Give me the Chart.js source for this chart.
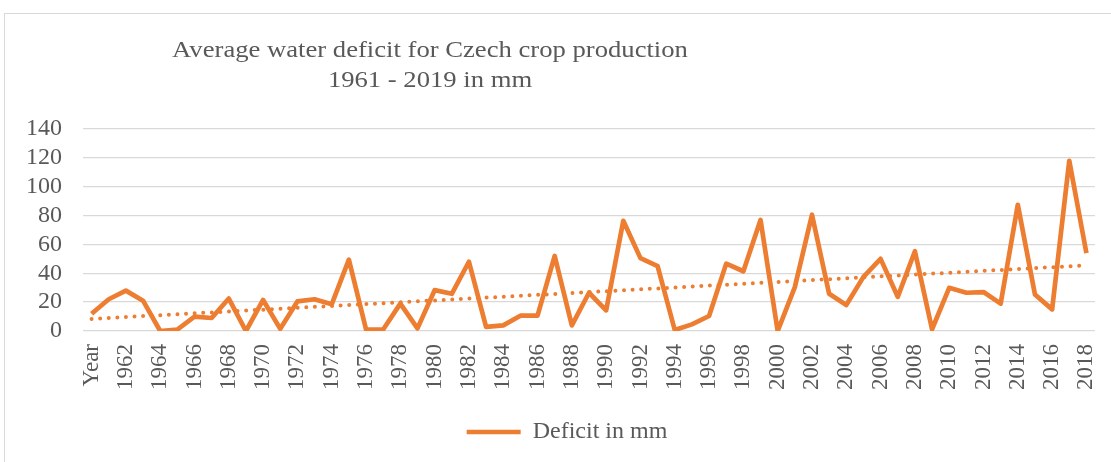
<!DOCTYPE html>
<html>
<head>
<meta charset="utf-8">
<script src="https://cdn.jsdelivr.net/npm/chart.js@4/dist/chart.umd.min.js"></script>
<style>
    body { margin: 0; background: #fff; }
    #wrap { position: relative; width: 1111px; height: 462px; overflow: hidden; }
    #frame { position: absolute; left: 4px; top: 13px; width: 1200px; height: 500px; border: 1px solid #d9d9d9; }
    canvas { position: absolute; left: 0; top: 0; }
</style>
</head>
<body>
<div id="wrap">
    <div id="frame"></div>
    <canvas id="deficitChart" width="1111" height="462"></canvas>
</div>
<script>
// Chart data
const titleLines = ['Average water deficit for Czech crop production', '1961 - 2019 in mm'];
const seriesName = 'Deficit in mm';

const years = ['Year'];
for (let y = 1961; y <= 2018; y++) years.push(String(y));

const deficit = [
    12, 22, 28, 21, 0, 1, 10, 9, 22.5, 0,
    21.5, 1.5, 20.5, 22, 18.5, 49.5, 1.2, 1, 19, 1.8,
    28.3, 25.8, 48, 2.8, 3.9, 10.6, 10.6, 52, 3.9, 26.5,
    14.3, 76.4, 50.5, 45, 0.7, 4.6, 10.4, 46.7, 41.4, 77,
    0, 30.4, 80.6, 25.8, 18, 37.5, 50, 23.7, 55.3, 1.2,
    29.9, 26.5, 27, 19, 87.5, 25.3, 15, 118, 54
];

// Linear trend line endpoints
const trendStart = 8.4;
const trendEnd = 45.5;
const trend = deficit.map(function(v, i) {
    if (i === 0) return trendStart;
    if (i === deficit.length - 1) return trendEnd;
    return null;
});

const yTicks = { min: 0, max: 140, step: 20 };

const orange = '#ED7D31';
const textGray = '#595959';
const serif = '"Liberation Serif", "Times New Roman", serif';

// two-line title, left of centre and a bit wide like the original
const titlePlugin = {
    id: 'titleLines',
    afterDraw(chart) {
        const ctx = chart.ctx;
        ctx.save();
        ctx.fillStyle = textGray;
        ctx.font = '24px ' + serif;
        ctx.textAlign = 'center';
        ctx.textBaseline = 'alphabetic';
        [[titleLines[0], 57], [titleLines[1], 87]].forEach(function(t) {
            ctx.save();
            ctx.translate(430, t[1]);
            ctx.scale(1.11, 1);
            ctx.fillText(t[0], 0, 0);
            ctx.restore();
        });
        ctx.restore();
    }
};

// nudge the legend a little to the right
const legendShift = {
    id: 'legendShift',
    afterLayout(chart) {
        if (chart.legend) {
            chart.legend.left += 17;
            chart.legend.right += 17;
        }
    }
};

new Chart(document.getElementById('deficitChart').getContext('2d'), {
    type: 'line',
    data: {
        labels: years,
        datasets: [{
            label: seriesName,
            data: deficit,
            borderColor: orange,
            backgroundColor: orange,
            borderWidth: 4.7,
            borderJoinStyle: 'round',
            pointRadius: 0,
            tension: 0
        }, {
            label: 'trend',
            data: trend,
            spanGaps: true,
            borderColor: orange,
            borderWidth: 4,
            borderDash: [0, 8.6],
            borderCapStyle: 'round',
            pointRadius: 0,
            tension: 0
        }]
    },
    options: {
        responsive: false,
        animation: false,
        layout: {
            padding: { left: 5, right: 16, top: 129, bottom: 8 }
        },
        plugins: {
            title: { display: false },
            tooltip: { enabled: false },
            legend: {
                position: 'bottom',
                labels: {
                    filter: function(item) { return item.text === seriesName; },
                    usePointStyle: true,
                    pointStyle: 'line',
                    pointStyleWidth: 54,
                    color: textGray,
                    font: { family: serif, size: 24 },
                    padding: 14
                }
            }
        },
        scales: {
            x: {
                offset: true,
                grid: { display: false, drawTicks: false },
                border: { display: false },
                afterFit: function(scale) {
                    scale.height += 3;
                    scale.paddingLeft = 0;
                    scale.paddingRight = 0;
                },
                ticks: {
                    autoSkip: false,
                    minRotation: 90,
                    maxRotation: 90,
                    padding: 13,
                    color: textGray,
                    font: { family: serif, size: 23 },
                    callback: function(value, index) {
                        return index % 2 === 0 ? this.getLabelForValue(value) : '';
                    }
                }
            },
            y: {
                min: yTicks.min,
                max: yTicks.max,
                grid: { color: '#d9d9d9', lineWidth: 1.3, drawTicks: false },
                border: { display: false },
                ticks: {
                    autoSkip: false,
                    stepSize: yTicks.step,
                    padding: 21,
                    color: textGray,
                    font: { family: serif, size: 24 }
                }
            }
        }
    },
    plugins: [titlePlugin, legendShift]
});
</script>
</body>
</html>
